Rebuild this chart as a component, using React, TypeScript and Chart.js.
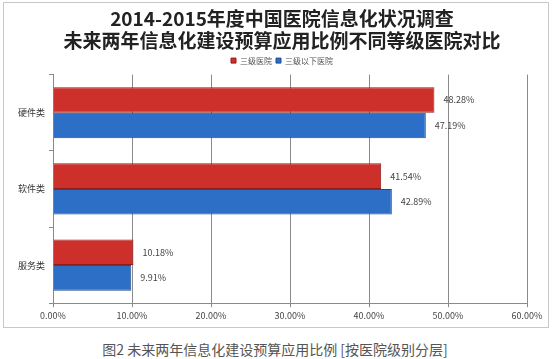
import React, { useEffect, useRef } from "react";
import { Chart, registerables } from "chart.js";

Chart.register(...registerables);

const titleLines = ["2014-2015年度中国医院信息化状况调查", "未来两年信息化建设预算应用比例不同等级医院对比"];
const categories = ["硬件类", "软件类", "服务类"];
const seriesNames = ["三级医院", "三级以下医院"];
const tertiary = [48.28, 41.54, 10.18];
const belowTertiary = [47.19, 42.89, 9.91];
const caption = "图2 未来两年信息化建设预算应用比例 [按医院级别分层]";

const FONT = "'Noto Sans CJK SC', 'Noto Sans', sans-serif";

const valueLabels = {
  id: "valueLabels",
  afterDatasetsDraw(chart: any) {
    const ctx = chart.ctx;
    ctx.save();
    ctx.font = `9px ${FONT}`;
    ctx.fillStyle = "#444";
    ctx.textAlign = "left";
    ctx.textBaseline = "middle";
    chart.data.datasets.forEach((ds: any, di: number) => {
      const meta = chart.getDatasetMeta(di);
      meta.data.forEach((bar: any, i: number) => {
        ctx.fillText(Number(ds.data[i]).toFixed(2) + "%", bar.x + 9, bar.y);
      });
    });
    ctx.restore();
  },
};

// let the category labels extend into the left padding (avoid label clipping)
const widenYLabelArea = {
  id: "widenYLabelArea",
  afterLayout(chart: any) {
    const y = chart.scales.y;
    if (y) y.left = 0;
  },
};

export default function App() {
  const ref = useRef<HTMLCanvasElement>(null);
  useEffect(() => {
    document.body.style.margin = "0";
    const chart = new Chart(ref.current!, {
      type: "bar",
      data: {
        labels: categories,
        datasets: [
          {
            label: seriesNames[0],
            data: tertiary,
            backgroundColor: "#cd302b",
            borderColor: "#8e1d1a",
            borderWidth: 1,
          },
          {
            label: seriesNames[1],
            data: belowTertiary,
            backgroundColor: "#2d6ec6",
            borderColor: "#1c4c8f",
            borderWidth: 1,
          },
        ],
      },
      options: {
        indexAxis: "y",
        animation: false,
        responsive: false,
        maintainAspectRatio: false,
        layout: { padding: { left: 37, right: 27, top: 2, bottom: 4 } },
        datasets: { bar: { categoryPercentage: 0.67, barPercentage: 1 } },
        plugins: {
          title: {
            display: true,
            text: titleLines,
            font: { family: FONT, size: 19, weight: "bold" },
            color: "#222",
            lineHeight: 1.2,
            padding: { top: 5, bottom: 0 },
          },
          legend: {
            display: true,
            position: "top",
            labels: {
              font: { family: FONT, size: 8 },
              color: "#555",
              boxWidth: 5,
              boxHeight: 5,
              padding: 4,
            },
          },
          tooltip: { enabled: false },
        },
        scales: {
          x: {
            min: 0,
            max: 60,
            ticks: {
              stepSize: 10,
              callback: (v: any) => Number(v).toFixed(2) + "%",
              font: { family: FONT, size: 9 },
              color: "#444",
              maxRotation: 0,
            },
            grid: { color: "#8a8a8a", tickLength: 4 },
            border: { color: "#8a8a8a" },
          },
          y: {
            ticks: {
              font: { family: FONT, size: 9 },
              color: "#333",
              padding: 4,
            },
            grid: { offset: true, drawOnChartArea: false, color: "#8a8a8a", tickLength: 4 },
            border: { color: "#8a8a8a" },
            afterFit: (s: any) => {
              s.width = 16;
            },
          },
        },
      },
      plugins: [valueLabels, widenYLabelArea],
    });
    return () => chart.destroy();
  }, []);
  return (
    <div style={{ position: "relative", width: 554, height: 359, background: "#fff" }}>
      <div
        style={{
          position: "absolute",
          left: 3,
          top: 2,
          width: 546,
          height: 326,
          border: "1px solid #c8c8c8",
          boxSizing: "border-box",
        }}
      />
      <canvas ref={ref} width={554} height={328} style={{ position: "absolute", left: 0, top: 0 }} />
      <div
        style={{
          position: "absolute",
          left: 0,
          top: 339,
          width: 550,
          textAlign: "center",
          fontFamily: FONT,
          fontSize: 14,
          color: "#555",
          whiteSpace: "nowrap",
        }}
      >
        {caption}
      </div>
    </div>
  );
}
